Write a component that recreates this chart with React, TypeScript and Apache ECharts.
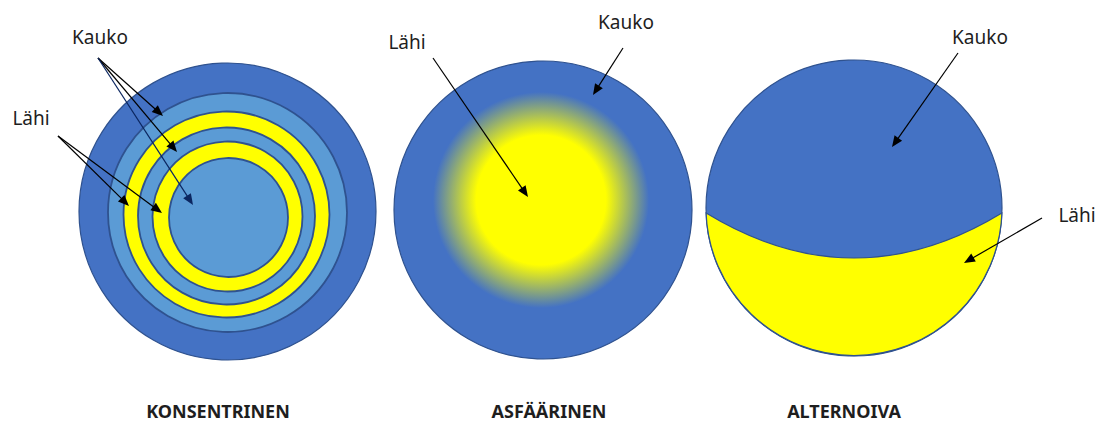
import React, { useEffect, useRef } from "react";
import * as echarts from "echarts";

// ---- content ----
const panelTitles = ["KONSENTRINEN", "ASFÄÄRINEN", "ALTERNOIVA"];
const nearLabel = "Lähi";
const farLabel = "Kauko";

// concentric lens rings, outer to inner: [cx, cy, r]
const ringGeom: number[][] = [
  [227.5, 211.5, 148.5],
  [227.5, 212.5, 119.5],
  [226.5, 214.5, 103],
  [226.5, 216, 88.5],
  [227.5, 216.5, 75],
  [228.5, 217.5, 59.5],
];
const ringKinds = ["far-outer", "far", "near", "far", "near", "far"];

const DARK = "#4472C4";
const LIGHT = "#5B9BD5";
const YELLOW = "#FFFF00";
const EDGE = "#2F528F";
const TEXT = "#1e1e1e";

function arrow(x1: number, y1: number, x2: number, y2: number, color: string) {
  const dx = x2 - x1;
  const dy = y2 - y1;
  const L = Math.hypot(dx, dy);
  const ux = dx / L;
  const uy = dy / L;
  const hl = 11;
  const hw = 4.6;
  const bx = x2 - ux * hl;
  const by = y2 - uy * hl;
  return [
    {
      type: "line",
      shape: { x1, y1, x2: bx + ux * 2, y2: by + uy * 2 },
      style: { stroke: color, lineWidth: 1.2 },
      z: 20,
    },
    {
      type: "polygon",
      shape: {
        points: [
          [x2, y2],
          [bx - uy * hw, by + ux * hw],
          [bx + uy * hw, by - ux * hw],
        ],
      },
      style: { fill: color },
      z: 21,
    },
  ];
}

function label(text: string, x: number, y: number, bold = false) {
  return {
    type: "text",
    x,
    y,
    z: 30,
    style: {
      text,
      fill: TEXT,
      font: `${bold ? "bold 18px" : "19px"} "Noto Sans", "Open Sans", sans-serif`,
      lineHeight: bold ? 18 : 19,
      textAlign: "center",
      textVerticalAlign: "middle",
    },
  };
}

let registered = false;

export default function App() {
  const ref = useRef<HTMLDivElement>(null);
  useEffect(() => {
    if (!ref.current) return;
    if (!registered) {
      // lower (near) zone of the alternating lens
      const d =
        "M 706.1 213 Q 854 303 1001.9 213 A 148 148 0 0 1 706.1 213 Z";
      echarts.graphic.registerShape(
        "altNear",
        echarts.graphic.extendPath(d, {}) as any
      );
      registered = true;
    }
    const chart = echarts.init(ref.current, undefined, { renderer: "svg" });

    const els: any[] = [];

    // Panel 1: concentric
    ringGeom.forEach((g, i) => {
      const kind = ringKinds[i];
      els.push({
        type: "circle",
        shape: { cx: g[0], cy: g[1], r: g[2] },
        style: {
          fill: kind === "far-outer" ? DARK : kind === "far" ? LIGHT : YELLOW,
          stroke: EDGE,
          lineWidth: i === 0 ? 1.2 : 1.8,
        },
        z: 1 + i,
      });
    });

    // Panel 2: aspheric (radial gradient)
    els.push({
      type: "circle",
      shape: { cx: 543, cy: 210, r: 149 },
      style: {
        fill: new echarts.graphic.RadialGradient(
          541,
          200,
          108,
          [
            { offset: 0, color: YELLOW },
            { offset: 0.6, color: YELLOW },
            { offset: 1, color: DARK },
          ],
          true
        ),
        stroke: EDGE,
        lineWidth: 1.2,
      },
      z: 1,
    });

    // Panel 3: alternating
    els.push({
      type: "circle",
      shape: { cx: 854, cy: 208, r: 148 },
      style: { fill: DARK, stroke: EDGE, lineWidth: 1.2 },
      z: 1,
    });
    els.push({
      type: "altNear",
      x: 0,
      y: 0,
      scaleX: 1,
      scaleY: 1,
      style: { fill: YELLOW, stroke: EDGE, lineWidth: 1.2 },
      z: 2,
    });

    // arrows
    els.push(...arrow(98, 58, 163, 116, "#000"));
    els.push(...arrow(98, 58, 177, 152, "#000"));
    els.push(...arrow(98, 58, 193, 205, "#0B2660"));
    els.push(...arrow(58, 136, 129, 206, "#000"));
    els.push(...arrow(58, 136, 162, 213, "#000"));

    els.push(...arrow(433, 58, 528, 197, "#000"));
    els.push(...arrow(623, 48, 593, 95, "#000"));

    els.push(...arrow(958, 53, 892, 147, "#000"));
    els.push(...arrow(1042, 218, 964, 263, "#000"));

    // labels
    els.push(label(farLabel, 100, 37));
    els.push(label(nearLabel, 31, 118));
    els.push(label(nearLabel, 407, 42));
    els.push(label(farLabel, 626, 22));
    els.push(label(farLabel, 980, 37));
    els.push(label(nearLabel, 1077, 215));

    els.push(label(panelTitles[0], 218, 411, true));
    els.push(label(panelTitles[1], 549, 411, true));
    els.push(label(panelTitles[2], 844, 411, true));

    chart.setOption({
      animation: false,
      backgroundColor: "#ffffff",
      graphic: { elements: els },
    });
    return () => chart.dispose();
  }, []);
  return (
    <div
      ref={ref}
      style={{
        position: "fixed",
        left: 0,
        top: 0,
        width: 1099,
        height: 423,
        background: "#fff",
      }}
    />
  );
}
